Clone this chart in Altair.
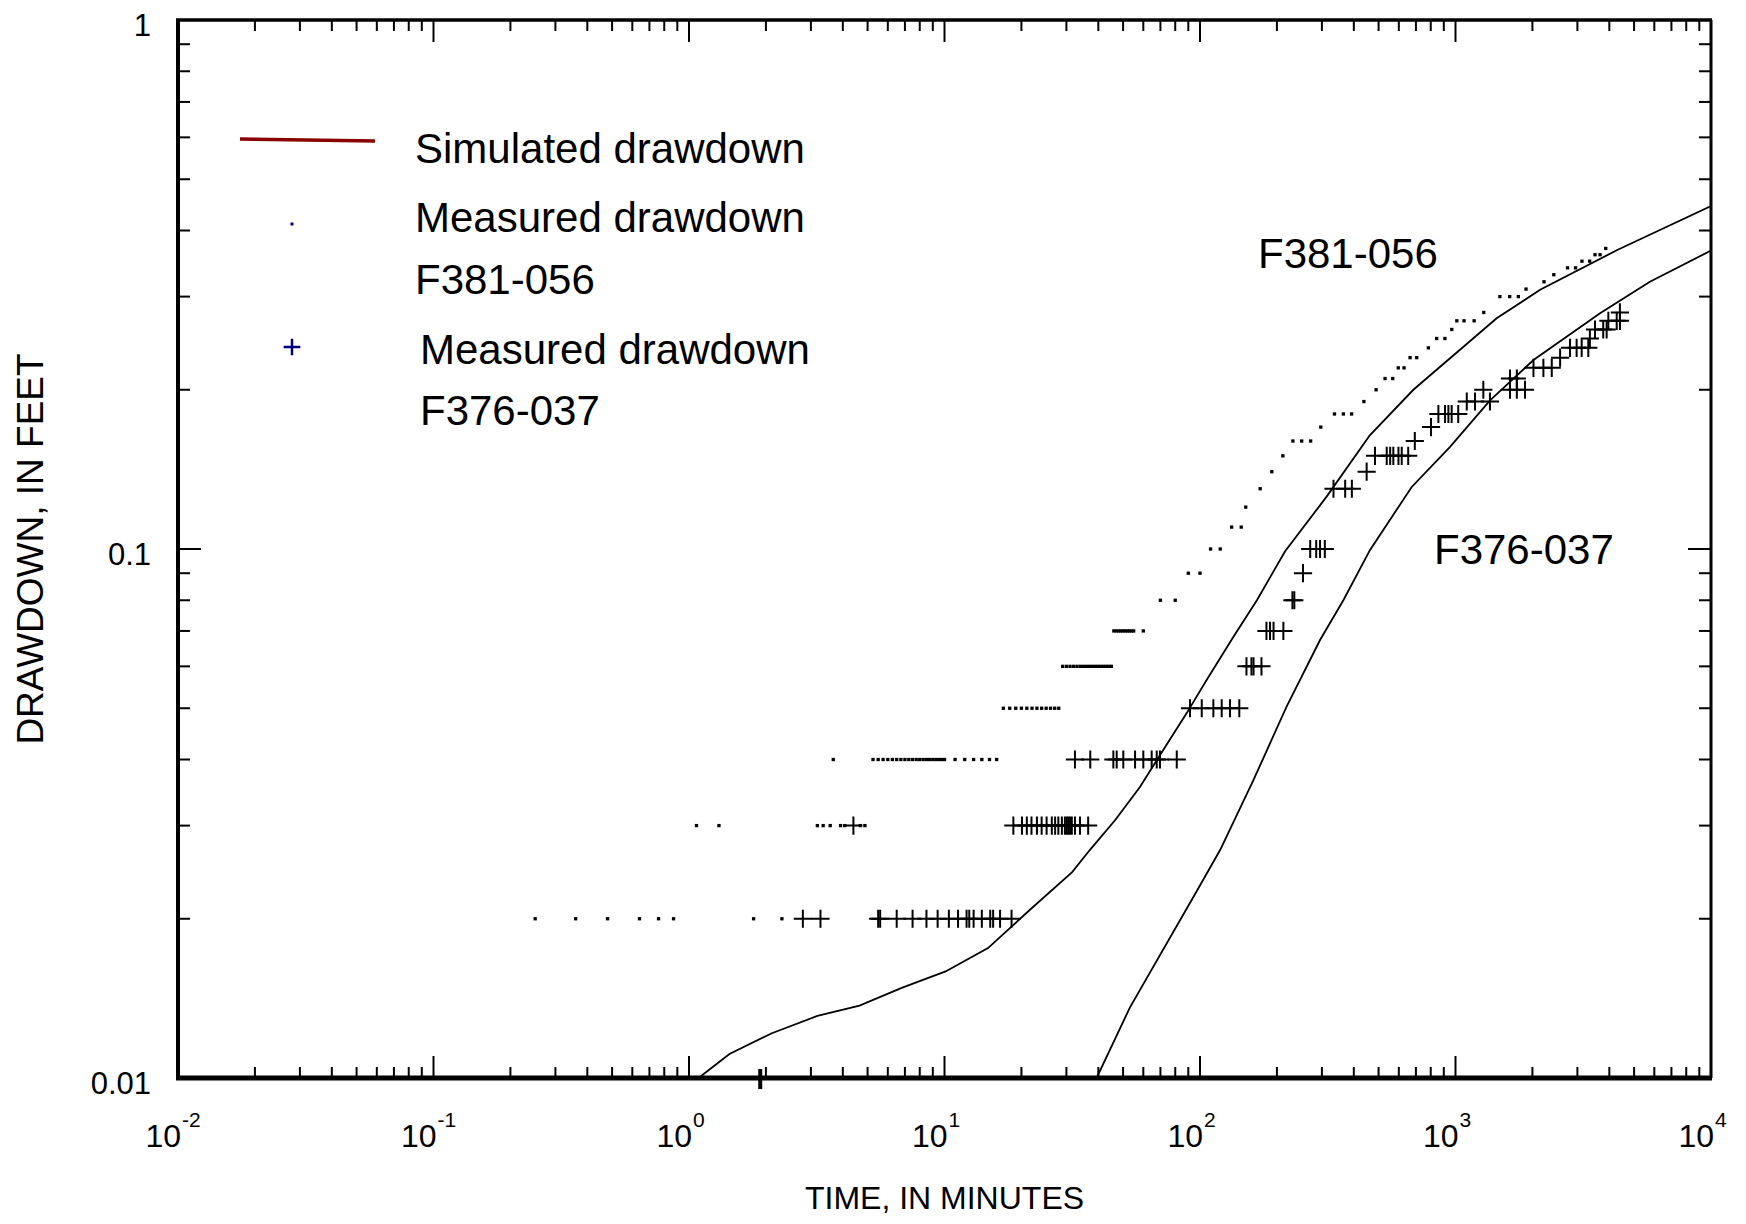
import altair as alt
import pandas as pd

# ---------------- data ----------------
# Measured drawdown, well F381-056 (time in minutes, drawdown in feet)
f381_time = [
    0.25, 0.36, 0.48, 0.64, 0.76, 0.87, 1.79, 2.31,
    1.07, 1.31, 3.18, 3.35, 3.57, 3.92, 4.07, 4.68, 4.88,
    3.67, 5.25, 5.5, 5.75, 6.0, 6.25, 6.5, 6.75, 7.0, 7.25, 7.5, 7.75, 8.0, 8.25,
    8.5, 8.75, 9.0, 9.25, 9.5, 9.75, 10.0, 11, 12, 13, 14, 15, 16,
    17, 18, 19, 20, 21, 22, 23, 24, 25, 26, 27, 28,
    29, 30, 31, 32, 33, 34, 35, 36, 37, 38, 39, 40, 41, 42, 43, 44, 45,
    46, 47, 48, 49, 50, 51, 52, 53, 54, 55, 60,
    70, 80, 90, 100, 110, 120, 133, 145, 151, 172, 191, 211,
    231, 250, 271, 297, 336, 364, 392, 438, 489, 530, 568, 597, 629,
    664, 705, 783, 844, 909, 967, 1012, 1080, 1183, 1290,
    1492, 1630, 1762, 1888, 2220, 2425, 2745, 2950, 3125, 3350, 3516, 3679, 3872,
]
f381_drawdown = [
    0.02, 0.02, 0.02, 0.02, 0.02, 0.02, 0.02, 0.02,
    0.03, 0.03, 0.03, 0.03, 0.03, 0.03, 0.03, 0.03, 0.03,
    0.04, 0.04, 0.04, 0.04, 0.04, 0.04, 0.04, 0.04, 0.04, 0.04, 0.04, 0.04, 0.04, 0.04,
    0.04, 0.04, 0.04, 0.04, 0.04, 0.04, 0.04, 0.04, 0.04, 0.04, 0.04, 0.04, 0.04,
    0.05, 0.05, 0.05, 0.05, 0.05, 0.05, 0.05, 0.05, 0.05, 0.05, 0.05, 0.05,
    0.06, 0.06, 0.06, 0.06, 0.06, 0.06, 0.06, 0.06, 0.06, 0.06, 0.06, 0.06, 0.06, 0.06, 0.06, 0.06, 0.06,
    0.07, 0.07, 0.07, 0.07, 0.07, 0.07, 0.07, 0.07, 0.07, 0.07, 0.07,
    0.08, 0.08, 0.09, 0.09, 0.10, 0.10, 0.11, 0.11, 0.12, 0.13, 0.14, 0.15,
    0.16, 0.16, 0.16, 0.17, 0.18, 0.18, 0.18, 0.19, 0.20, 0.21, 0.21, 0.22, 0.22,
    0.23, 0.23, 0.24, 0.25, 0.25, 0.26, 0.27, 0.27, 0.27, 0.28,
    0.30, 0.30, 0.30, 0.31, 0.32, 0.33, 0.34, 0.34, 0.35, 0.35, 0.36, 0.36, 0.37,
]

# Measured drawdown, well F376-037
f376_time = [
    2.79, 3.27, 5.5, 5.6, 6.5, 7.5, 8.5, 9.4, 10.4, 11.3, 12.2, 12.5, 13.0, 14.0, 15.1, 15.5, 16.5, 18.3,
    4.4, 18.6, 20.1, 21.0, 21.9, 23.0, 24.0, 25.1, 26.3, 27.1, 27.9, 28.8, 29.6, 30.1, 30.5, 31.0, 31.5, 32.4, 33.9, 36.5,
    32.4, 37.2, 45.8, 47.2, 50.1, 55.7, 60.0, 64.7, 67.7, 69.7, 81.1,
    91.4, 101.6, 112.8, 121.6, 131, 142.5,
    152, 159, 162, 174,
    182, 188, 194, 212,
    230, 234, 253, 270, 285, 295, 308,
    333, 370, 393, 449,
    484, 538, 555, 571, 598, 616, 653, 693, 802,
    857, 910, 938, 966, 1025, 1107, 1192, 1364,
    1285, 1634, 1738, 1871, 1634, 1738,
    2019, 2208, 2381, 2567, 2807, 2979, 3118, 3310, 3357,
    3516, 3786, 3905, 3965, 4275, 4403, 4400,
]
f376_drawdown = [
    0.02, 0.02, 0.02, 0.02, 0.02, 0.02, 0.02, 0.02, 0.02, 0.02, 0.02, 0.02, 0.02, 0.02, 0.02, 0.02, 0.02, 0.02,
    0.03, 0.03, 0.03, 0.03, 0.03, 0.03, 0.03, 0.03, 0.03, 0.03, 0.03, 0.03, 0.03, 0.03, 0.03, 0.03, 0.03, 0.03, 0.03, 0.03,
    0.04, 0.04, 0.04, 0.04, 0.04, 0.04, 0.04, 0.04, 0.04, 0.04, 0.04,
    0.05, 0.05, 0.05, 0.05, 0.05, 0.05,
    0.06, 0.06, 0.06, 0.06,
    0.07, 0.07, 0.07, 0.07,
    0.08, 0.08, 0.09, 0.10, 0.10, 0.10, 0.10,
    0.13, 0.13, 0.13, 0.14,
    0.15, 0.15, 0.15, 0.15, 0.15, 0.15, 0.15, 0.16, 0.17,
    0.18, 0.18, 0.18, 0.18, 0.18, 0.19, 0.19, 0.19,
    0.20, 0.20, 0.20, 0.20, 0.21, 0.21,
    0.22, 0.22, 0.22, 0.23, 0.24, 0.24, 0.24, 0.24, 0.25,
    0.26, 0.26, 0.26, 0.27, 0.27, 0.27, 0.28,
]

# Simulated drawdown curves
sim_f381_time = [1.09, 1.44, 2.11, 3.18, 4.65, 6.80, 10.1, 14.8, 21.6, 31.6, 37.1, 46.5,
                 58.2, 71.8, 88.6, 106, 135, 167, 215, 313, 462, 684, 1449, 2144, 4275, 10000]
sim_f381_drawdown = [0.0100, 0.0111, 0.01215, 0.0131, 0.0137, 0.0148, 0.0159, 0.0176, 0.0208,
                     0.0245, 0.0270, 0.0307, 0.0355, 0.0417, 0.0489, 0.0565, 0.0682, 0.080,
                     0.0989, 0.1256, 0.164, 0.200, 0.273, 0.309, 0.367, 0.445]
sim_f376_time = [39.4, 53.2, 97.3, 120, 162, 218, 295, 364, 463, 674, 952, 1365, 2019,
                 3680, 5766, 10000]
sim_f376_drawdown = [0.0100, 0.0136, 0.0226, 0.027, 0.0366, 0.0503, 0.0673, 0.080, 0.0996,
                     0.131, 0.156, 0.191, 0.2276, 0.279, 0.320, 0.3666]

well_names = ["F381-056", "F376-037"]
decade_exponents = [-2, -1, 0, 1, 2, 3, 4]
y_label_values = [0.01, 0.1, 1]
y_label_texts = ["0.01", "0.1", "1"]
x_title = "TIME, IN MINUTES"
y_title = "DRAWDOWN, IN FEET"
legend_texts = ["Simulated drawdown", "Measured drawdown", "F381-056", "Measured drawdown", "F376-037"]
stray_tick_time = [1.9]

# ---------------- chart ----------------
W, H = 1533, 1058
FONT = "Liberation Sans"
CROSS = "M-1,0H1M0,-1V1"

x_scale = alt.Scale(type="log", domain=[0.01, 10000], nice=False)
y_scale = alt.Scale(type="log", domain=[0.01, 1], nice=False)


def xq(field):
    return alt.X(f"{field}:Q", scale=x_scale, axis=None)


def yq(field):
    return alt.Y(f"{field}:Q", scale=y_scale, axis=None)


df381 = pd.DataFrame({"t": f381_time, "d": f381_drawdown})
df376 = pd.DataFrame({"t": f376_time, "d": f376_drawdown})
sim = pd.concat([
    pd.DataFrame({"t": sim_f381_time, "d": sim_f381_drawdown, "well": well_names[0]}),
    pd.DataFrame({"t": sim_f376_time, "d": sim_f376_drawdown, "well": well_names[1]}),
])

dots = alt.Chart(df381).mark_point(shape="square", filled=True, size=11, color="black",
                                   opacity=1, strokeWidth=0).encode(x=xq("t"), y=yq("d"))

crosses = alt.Chart(df376).mark_point(shape=CROSS, filled=False, size=330, color="black",
                                      opacity=1, strokeWidth=2).encode(x=xq("t"), y=yq("d"))

lines = alt.Chart(sim).mark_line(color="black", strokeWidth=1.8, clip=True).encode(
    x=xq("t"), y=yq("d"), detail="well:N", order="t:Q")

one = alt.Data(values=[{}])

# frame (left and bottom heavier)
frame = [
    alt.Chart(one).mark_rule(color="black", strokeWidth=4).encode(
        x=alt.value(0), y=alt.value(-1), y2=alt.value(H)),
    alt.Chart(one).mark_rule(color="black", strokeWidth=5).encode(
        x=alt.value(-2), x2=alt.value(W + 1), y=alt.value(H)),
    alt.Chart(one).mark_rule(color="black", strokeWidth=3.5).encode(
        x=alt.value(-2), x2=alt.value(W + 1), y=alt.value(0)),
    alt.Chart(one).mark_rule(color="black", strokeWidth=3).encode(
        x=alt.value(W), y=alt.value(0), y2=alt.value(H)),
]

# inward tick marks on all four sides
x_major = [10.0 ** k for k in decade_exponents[1:-1]]
x_minor = [m * 10.0 ** k for k in decade_exponents[:-1] for m in range(2, 10)]
y_major = [0.1]
y_minor = [m * 10.0 ** k for k in (-2, -1) for m in range(2, 10)]


def x_ticks(values, length):
    base = alt.Chart(pd.DataFrame({"v": values})).mark_rule(color="black", strokeWidth=2).encode(
        x=xq("v"))
    return [base.encode(y=alt.value(H), y2=alt.value(H - length)),
            base.encode(y=alt.value(0), y2=alt.value(length))]


def y_ticks(values, length):
    base = alt.Chart(pd.DataFrame({"v": values})).mark_rule(color="black", strokeWidth=2).encode(
        y=yq("v"))
    return [base.encode(x=alt.value(0), x2=alt.value(length)),
            base.encode(x=alt.value(W), x2=alt.value(W - length))]


tick_layers = x_ticks(x_major, 22) + x_ticks(x_minor, 11) + y_ticks(y_major, 23) + y_ticks(y_minor, 12)

stray = alt.Chart(pd.DataFrame({"v": stray_tick_time})).mark_rule(color="black", strokeWidth=4).encode(
    x=xq("v"), y=alt.value(H - 9), y2=alt.value(H + 11))

# axis labels
dec = pd.DataFrame({"v": [10.0 ** k for k in decade_exponents],
                    "exp": [str(k) for k in decade_exponents]})
base10 = alt.Chart(dec).mark_text(font=FONT, fontSize=32, color="black", align="right",
                                  baseline="alphabetic", dx=3).encode(
    x=xq("v"), y=alt.value(H + 69), text=alt.value("10"))
exps = alt.Chart(dec).mark_text(font=FONT, fontSize=21, color="black", align="left",
                                baseline="alphabetic", dx=4).encode(
    x=xq("v"), y=alt.value(H + 49), text="exp:N")

ylabs = alt.Chart(pd.DataFrame({"v": y_label_values, "lab": y_label_texts})).mark_text(
    font=FONT, fontSize=31, color="black", align="right", baseline="middle", dy=7).encode(
    y=yq("v"), x=alt.value(-27), text="lab:N")

xtitle = alt.Chart(one).mark_text(font=FONT, fontSize=32, color="black", align="center",
                                  baseline="alphabetic").encode(
    x=alt.value(W / 2), y=alt.value(H + 131), text=alt.value(x_title))
ytitle = alt.Chart(one).mark_text(font=FONT, fontSize=37, color="black", align="center",
                                  baseline="alphabetic", angle=270).encode(
    x=alt.value(-135), y=alt.value(H / 2), text=alt.value(y_title))


def label(txt, x, y, size=42):
    return alt.Chart(one).mark_text(font=FONT, fontSize=size, color="black", align="left",
                                    baseline="alphabetic").encode(
        x=alt.value(x), y=alt.value(y), text=alt.value(txt))


legend_line = alt.Chart(one).mark_rule(color="#8B0000", strokeWidth=3.5).encode(
    x=alt.value(62), x2=alt.value(197), y=alt.value(119), y2=alt.value(121))
legend_dot = alt.Chart(one).mark_point(shape="square", filled=True, size=9, color="#000080",
                                       opacity=1, strokeWidth=0).encode(
    x=alt.value(114), y=alt.value(204))
legend_plus = alt.Chart(one).mark_point(shape=CROSS, filled=False, size=280,
                                        color="#000080", opacity=1, strokeWidth=2.5).encode(
    x=alt.value(114), y=alt.value(327))

legend_layers = [
    legend_line, legend_dot, legend_plus,
    label(legend_texts[0], 237, 143),
    label(legend_texts[1], 237, 212),
    label(legend_texts[2], 237, 274),
    label(legend_texts[3], 242, 344),
    label(legend_texts[4], 242, 405),
    label(well_names[0], 1080, 248),
    label(well_names[1], 1256, 544),
]

chart = alt.layer(
    dots, lines, crosses, *tick_layers, *frame, stray, base10, exps, ylabs, xtitle, ytitle,
    *legend_layers
).properties(
    width=W, height=H,
    autosize=alt.AutoSizeParams(type="none"),
    padding={"left": 170, "top": 12, "right": 27, "bottom": 138},
).configure(font=FONT).configure_view(strokeWidth=0)

chart.save("out.html", embed_options={"renderer": "svg", "actions": False})
